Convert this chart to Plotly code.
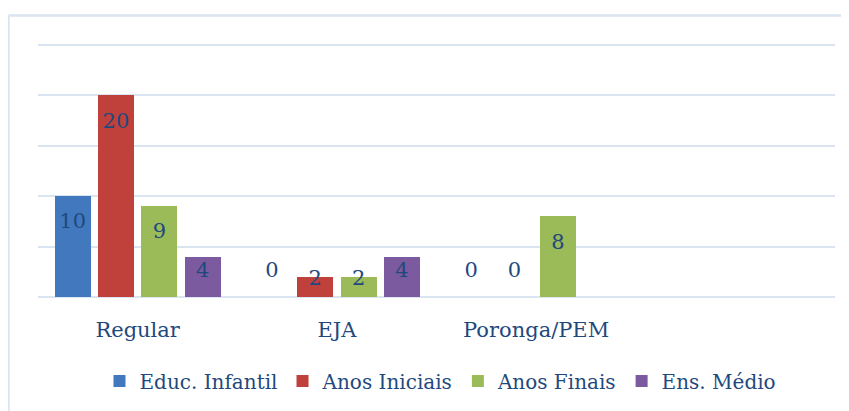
import plotly.graph_objects as go

categories = ["Regular", "EJA", "Poronga/PEM", ""]
series_names = ["Educ. Infantil", "Anos Iniciais", "Anos Finais", "Ens. Médio"]
educ_infantil = [10, 0, 0]
anos_iniciais = [20, 2, 0]
anos_finais = [9, 2, 8]
ens_medio = [4, 4, None]

series_values = [educ_infantil, anos_iniciais, anos_finais, ens_medio]
colors = ["#4178be", "#c0403c", "#9bbb59", "#7b5aa0"]
label_color = "#1f497d"
font_family = "DejaVu Serif"

# page body has an 8px margin: compensate so the picture lands where the reference is
PAD = 8
W, H = 849, 411
Y_MAX = 25.4
px_per_unit = (297 - 45) / 25.0
plot_x0, plot_x1 = 38, 835
plot_y1 = 297
plot_y0 = plot_y1 - Y_MAX * px_per_unit
L = plot_x0 - PAD
T = plot_y0 - PAD
R = W - (plot_x1 - PAD)
B = H - (plot_y1 - PAD)
pw, ph = W - L - R, H - T - B

offsets = [-0.326, -0.109, 0.109, 0.326]
bar_w = 0.18

fig = go.Figure()
for name, vals, col, off in zip(series_names, series_values, colors, offsets):
    xs = [i + off for i, v in enumerate(vals) if v is not None]
    ys = [v for v in vals if v is not None]
    fig.add_trace(go.Bar(x=xs, y=ys, width=bar_w, name=name,
                         marker=dict(color=col, line=dict(width=0)),
                         hoverinfo="skip"))

def label_y(v):
    if v == 0:
        return 2.5
    return max(v - 2.67, min(2.5, v - 0.3))

for name, vals, off in zip(series_names, series_values, offsets):
    xs = [i + off for i, v in enumerate(vals) if v is not None]
    ys = [label_y(v) for v in vals if v is not None]
    txt = [str(v) for v in vals if v is not None]
    fig.add_trace(go.Scatter(x=xs, y=ys, text=txt, mode="text",
                             textposition="middle center",
                             textfont=dict(color=label_color, size=21, family=font_family),
                             showlegend=False, hoverinfo="skip"))

frame_col = "#dbe5f1"
x_left = (8.5 - plot_x0) / pw
y_top = 1 + (plot_y0 - 15.5) / ph
fig.add_shape(type="line", xref="paper", yref="paper", x0=x_left, x1=(W + 20 - L) / pw,
              y0=y_top, y1=y_top, line=dict(color=frame_col, width=2.5))
fig.add_shape(type="line", xref="paper", yref="paper", x0=x_left, x1=x_left,
              y0=y_top, y1=-(B + 20) / ph, line=dict(color=frame_col, width=2.5))

fig.update_layout(
    width=W, height=H,
    margin=dict(l=L, r=R, t=T, b=B),
    paper_bgcolor="white", plot_bgcolor="white",
    showlegend=True,
    legend=dict(orientation="h", x=0.505, xanchor="center", y=-(381 - plot_y1) / ph,
                yanchor="middle", font=dict(color=label_color, size=20, family=font_family),
                itemwidth=30, traceorder="normal"),
    xaxis=dict(range=[-0.5, 3.5], tickvals=[0, 1, 2, 3], ticktext=categories,
               showgrid=False, zeroline=False, showline=False, ticks="",
               tickfont=dict(color=label_color, size=21, family=font_family),
               ticklabelstandoff=18, fixedrange=True),
    yaxis=dict(range=[0, Y_MAX], dtick=5, showgrid=True, gridcolor=frame_col, gridwidth=2,
               showticklabels=False, zeroline=True, zerolinecolor=frame_col, zerolinewidth=2,
               showline=False, fixedrange=True),
    bargap=0,
)

fig.write_html("out.html")
